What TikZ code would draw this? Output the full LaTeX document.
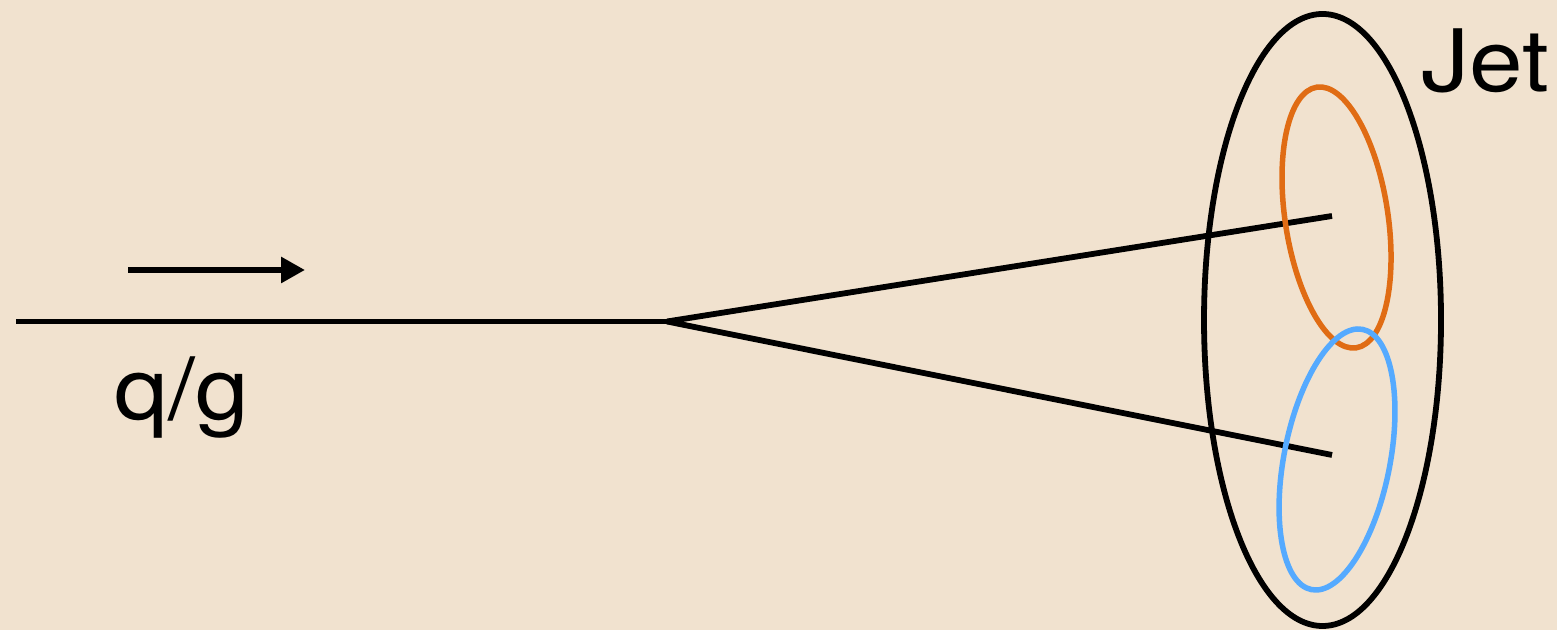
\documentclass[tikz,border=0pt]{standalone}
\usepackage{fontspec}
\setmainfont{TeX Gyre Heros}
\usetikzlibrary{arrows.meta}
\definecolor{bgwood}{RGB}{241,226,207}
\definecolor{jetorange}{RGB}{224,108,20}
\definecolor{jetblue}{RGB}{85,170,255}
\tikzset{
  partonline/.style={line width=0.058cm, black},
  jetring/.style={line width=0.058cm, black},
  subjet/.style={line width=0.055cm},
  lbl/.style={inner sep=0pt, font=\fontsize{24.5}{29}\selectfont, anchor=base west},
}
\begin{document}
\begin{tikzpicture}
\useasboundingbox (0,0) rectangle (15.57,6.30);
\fill[bgwood] (0,0) rectangle (15.57,6.30);
% coordinates
\coordinate (start) at (0.16,3.085);
\coordinate (vertex) at (6.67,3.085);
\coordinate (endA) at (13.32,4.14);
\coordinate (endB) at (13.32,1.75);
\coordinate (arrS) at (1.28,3.60);
\coordinate (arrE) at (3.05,3.60);
\coordinate (jetc) at (13.225,3.10);
\coordinate (orc) at (13.365,4.125);
\coordinate (blc) at (13.37,1.705);
% lines
\draw[partonline] (start) -- (vertex);
\draw[partonline] (vertex) -- (endA);
\draw[partonline] (vertex) -- (endB);
\draw[partonline, -{Triangle[length=0.24cm, width=0.25cm]}] (arrS) -- (arrE);
% jet
\draw[jetring] (jetc) ellipse [x radius=1.185, y radius=3.06];
\draw[subjet, jetorange, shift={(orc)}, rotate=8.6] (0,0) ellipse [x radius=0.514, y radius=1.318];
\draw[subjet, jetblue, shift={(blc)}, rotate=-11.1] (0,0) ellipse [x radius=0.53, y radius=1.326];
% labels
\node[lbl] (qg) at (1.14,2.10) {\scalebox{1.12}[1]{q/g}};
\node[lbl] (jet) at (14.21,5.38) {\scalebox{1.12}[1]{Jet}};
\end{tikzpicture}
\end{document}
